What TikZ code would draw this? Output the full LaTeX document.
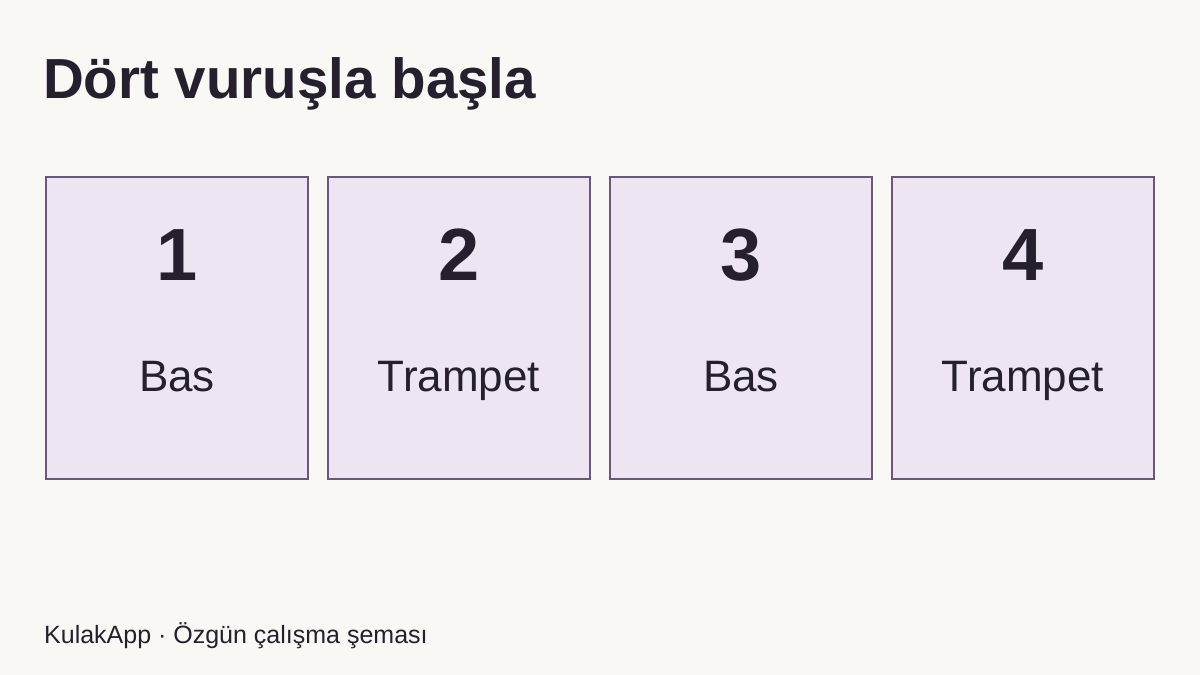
\documentclass[tikz,border=0pt]{standalone}
\usepackage{fontspec}
\setmainfont{Liberation Sans}
\usetikzlibrary{positioning}
\definecolor{bgcol}{HTML}{F9F8F4}
\definecolor{boxfill}{HTML}{EDE6F2}
\definecolor{boxline}{HTML}{6A5878}
\definecolor{ink}{HTML}{26202E}

\begin{document}
\begin{tikzpicture}[x=1pt,y=-1pt,
  beat/.style={rectangle,draw=boxline,fill=boxfill,line width=2pt,minimum width=262pt,minimum height=302pt,inner sep=0pt,outer sep=0pt},
  num/.style={anchor=base,inner sep=0pt,text=ink,font=\fontsize{74}{74}\selectfont\bfseries},
  sound/.style={anchor=base,inner sep=0pt,text=ink,font=\fontsize{44}{44}\selectfont}]
\fill[bgcol] (0,0) rectangle (1200,675);
\useasboundingbox (0,0) rectangle (1200,675);
\node[anchor=base west,inner sep=0pt,text=ink,font=\fontsize{56.5}{56.5}\selectfont\bfseries](title) at (43,98){Dört vuruşla başla};
\node[beat](b1) at (177,328){};
\node[beat,right=20pt of b1](b2){};
\node[beat,right=20pt of b2](b3){};
\node[beat,right=20pt of b3](b4){};
\node[num](n1) at (177,280){1};
\node[num](n2) at (459,280){2};
\node[num](n3) at (741,280){3};
\node[num](n4) at (1023,280){4};
\node[sound](s1) at (177,391){Bas};
\node[sound](s2) at (459,391){Trampet};
\node[sound](s3) at (741,391){Bas};
\node[sound](s4) at (1023,391){Trampet};
\node[anchor=base west,inner sep=0pt,text=ink,font=\fontsize{25}{25}\selectfont](foot) at (44,643){KulakApp · Özgün çalışma şeması};
\end{tikzpicture}
\end{document}
